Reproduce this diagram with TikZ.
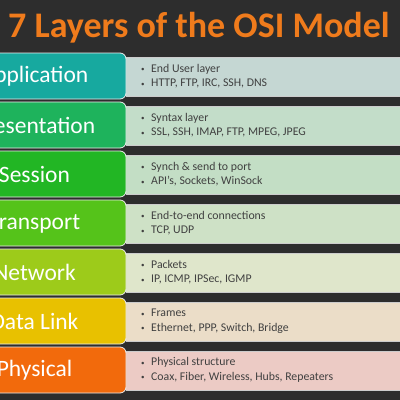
\documentclass[tikz,border=0pt]{standalone}
\usepackage{fontspec}
\setmainfont{Carlito}
\definecolor{bgc}{HTML}{2D2D2D}
\definecolor{titlec}{HTML}{EF7B1C}
\definecolor{txtc}{HTML}{404040}
\definecolor{lA}{HTML}{17A99F}\definecolor{rA}{HTML}{C5D7D3}
\definecolor{lB}{HTML}{1EB35C}\definecolor{rB}{HTML}{C3DDC9}
\definecolor{lC}{HTML}{22B624}\definecolor{rC}{HTML}{C3DEC5}
\definecolor{lD}{HTML}{55C31A}\definecolor{rD}{HTML}{CEE1C6}
\definecolor{lE}{HTML}{9DCB1A}\definecolor{rE}{HTML}{DFE6CB}
\definecolor{lF}{HTML}{E8C100}\definecolor{rF}{HTML}{EBDDC8}
\definecolor{lG}{HTML}{F26A0C}\definecolor{rG}{HTML}{ECCBC5}
\newcommand{\bul}{\makebox[10pt][l]{\raisebox{0.5pt}{\scriptsize•}}}
\tikzset{
  layerbox/.style={draw=white!85!gray, line width=0.8pt, rounded corners=6pt},
  infobox/.style={draw=white!60!gray, line width=0.4pt},
  layertext/.style={text=white, font=\fontsize{23.5}{25}\selectfont, inner sep=0pt},
  infotext/.style={text=txtc, font=\fontsize{11.8}{14.5}\selectfont, align=left, anchor=west, inner sep=0pt},
}
\begin{document}
\begin{tikzpicture}[x=1pt,y=-1pt]
\useasboundingbox (0,0) rectangle (400,400);
\clip (0,0) rectangle (400,400);
\fill[bgc] (0,0) rectangle (400,400);
\node[text=titlec, font=\fontsize{36}{38}\selectfont\bfseries, anchor=base west, inner sep=0pt] (title) at (8,37) {7 Layers of the OSI Model};
\foreach \i/\lc/\rc/\name/\la/\lb in {
  0/lA/rA/Application/End User layer/{HTTP, FTP, IRC, SSH, DNS},
  1/lB/rB/Presentation/Syntax layer/{SSL, SSH, IMAP, FTP, MPEG, JPEG},
  2/lC/rC/Session/Synch \& send to port/{API’s, Sockets, WinSock},
  3/lD/rD/Transport/End-to-end connections/{TCP, UDP},
  4/lE/rE/Network/Packets/{IP, ICMP, IPSec, IGMP},
  5/lF/rF/Data Link/Frames/{Ethernet, PPP, Switch, Bridge},
  6/lG/rG/Physical/Physical structure/{Coax, Fiber, Wireless, Hubs, Repeaters}}{
  \pgfmathsetmacro{\t}{53+49*\i}
  \fill[\rc] (124,\t+4) rectangle (402,\t+43);
  \draw[infobox] (126,\t+4) -- (402,\t+4) (126,\t+43) -- (402,\t+43);
  \draw[layerbox, fill=\lc] (-60,\t) rectangle (126,\t+46);
  \node[layertext] (L\i) at (34.5,\t+23.5) {\name};
  \node[infotext] (I\i) at (141,\t+23) {\bul\la\\\bul\lb};
}
\end{tikzpicture}
\end{document}
